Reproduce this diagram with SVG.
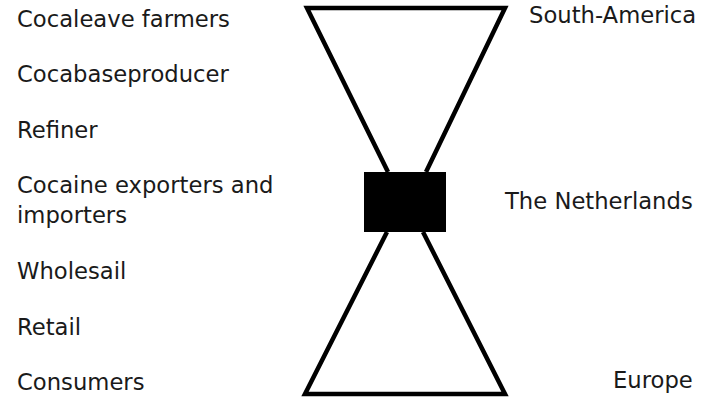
<svg xmlns="http://www.w3.org/2000/svg" width="711" height="399" viewBox="0 0 711 399">
<style>
text{font-family:"DejaVu Sans",Verdana,sans-serif;font-size:22.7px;fill:#1a1a1a}
.sh{fill:none;stroke:#000;stroke-width:4.5;stroke-linejoin:miter}
</style>
<rect width="711" height="399" fill="#fff"/>
<g id="labels-left">
<text x="17" y="27">Cocaleave farmers</text>
<text x="17" y="82">Cocabaseproducer</text>
<text x="17" y="138">Refiner</text>
<text x="17" y="193">Cocaine exporters and</text>
<text x="17" y="223">importers</text>
<text x="17" y="279">Wholesail</text>
<text x="17" y="335">Retail</text>
<text x="17" y="390">Consumers</text>
</g>
<g id="labels-right">
<text x="529" y="23">South-America</text>
<text x="505" y="209">The Netherlands</text>
<text x="613" y="388">Europe</text>
</g>
<g id="connectors">
<path class="sh" d="M388,172 L307,8 L505,8 L426,172"/>
<path class="sh" d="M387,232 L305,394 L505,394 L423,232"/>
</g>
<g id="node-netherlands">
<rect x="364" y="172" width="82" height="60" fill="#000"/>
</g>
</svg>
